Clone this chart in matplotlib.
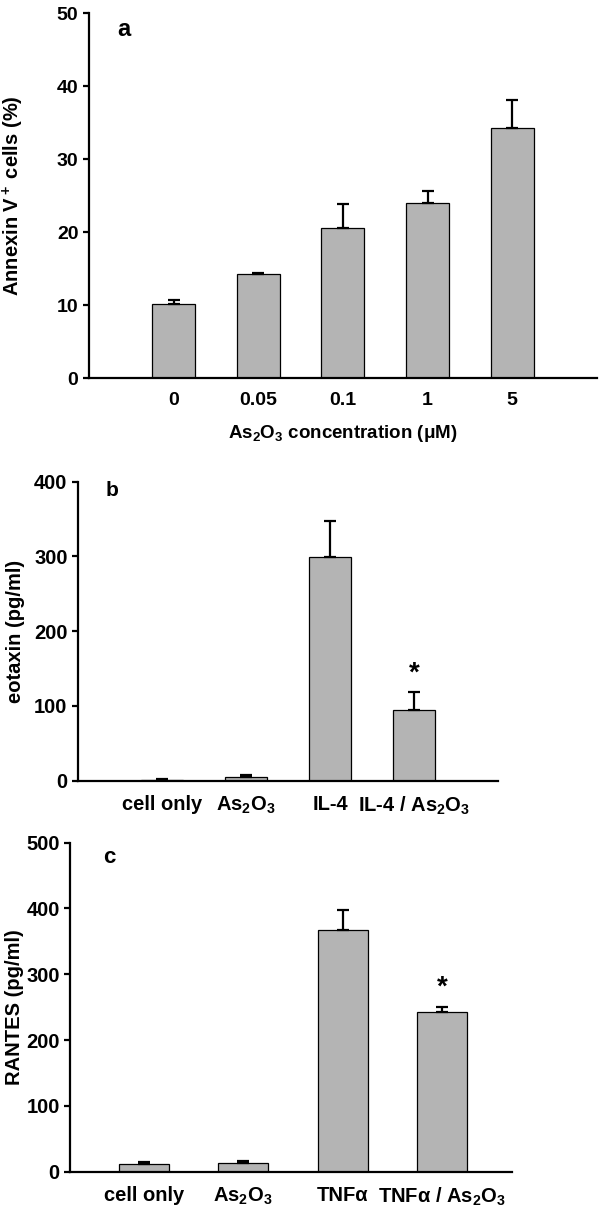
import matplotlib
matplotlib.use('Agg')
import matplotlib.pyplot as plt

plt.rcParams['font.family'] = ['Liberation Sans', 'DejaVu Sans']
plt.rcParams['font.weight'] = 'bold'
plt.rcParams['axes.labelweight'] = 'bold'
plt.rcParams['mathtext.fontset'] = 'custom'
plt.rcParams['mathtext.rm'] = 'Liberation Sans:bold'
plt.rcParams['mathtext.it'] = 'Liberation Sans:bold'
plt.rcParams['mathtext.bf'] = 'Liberation Sans:bold'
plt.rcParams['mathtext.default'] = 'rm'

# panel a: apoptosis
conc_labels = ['0', '0.05', '0.1', '1', '5']
annexin = [10.2, 14.3, 20.6, 24.0, 34.3]
annexin_err = [0.5, 0.15, 3.3, 1.6, 3.8]

# panel b: eotaxin
eotaxin_labels = ['cell only', 'As$_2$O$_3$', 'IL-4', 'IL-4 / As$_2$O$_3$']
eotaxin = [1.5, 5.0, 298.5, 94.5]
eotaxin_err = [1.0, 2.0, 49.0, 24.5]

# panel c: RANTES
rantes_labels = ['cell only', 'As$_2$O$_3$', 'TNF\u03b1', 'TNF\u03b1 / As$_2$O$_3$']
rantes = [12.5, 14.0, 368.0, 242.0]
rantes_err = [2.5, 3.0, 30.0, 8.5]

bar_color = '#b4b4b4'

fig = plt.figure(figsize=(6, 12.16), dpi=100)


def style_axis(ax, fs):
    ax.spines['top'].set_visible(False)
    ax.spines['right'].set_visible(False)
    ax.spines['left'].set_linewidth(1.6)
    ax.spines['bottom'].set_linewidth(1.6)
    ax.tick_params(axis='y', direction='out', length=4.5, width=1.6, labelsize=fs, pad=3)
    ax.tick_params(axis='x', length=0, labelsize=fs, pad=10)


def draw_bars(ax, values, errs, width):
    x = list(range(len(values)))
    ax.bar(x, values, width=width, color=bar_color, edgecolor='black', linewidth=0.9, zorder=2)
    ax.errorbar(x, values, yerr=[[0] * len(errs), errs], fmt='none', ecolor='black',
                elinewidth=1.6, capsize=4, capthick=1.6, zorder=3)
    return x


# ---- a ----
ax_a = fig.add_axes([0.148, 0.689, 0.847, 0.300])
x = draw_bars(ax_a, annexin, annexin_err, 0.51)
ax_a.set_xlim(-1, 5)
ax_a.set_ylim(0, 50)
ax_a.set_yticks([0, 10, 20, 30, 40, 50])
ax_a.set_xticks(x)
ax_a.set_xticklabels(conc_labels)
style_axis(ax_a, 14)
ax_a.set_ylabel('Annexin V$^+$ cells (%)', fontsize=14.5)
ax_a.yaxis.set_label_coords(-0.124, 0.5)
ax_a.set_xlabel('As$_2$O$_3$ concentration (\u03bcM)', fontsize=13.5)
ax_a.xaxis.set_label_coords(0.5, -0.122)
ax_a.text(0.055, 0.955, 'a', transform=ax_a.transAxes, fontsize=17, va='center')

# ---- b ----
ax_b = fig.add_axes([0.130, 0.358, 0.700, 0.246])
x = draw_bars(ax_b, eotaxin, eotaxin_err, 0.49)
ax_b.set_xlim(-1, 4)
ax_b.set_ylim(0, 400)
ax_b.set_yticks([0, 100, 200, 300, 400])
ax_b.set_xticks(x)
ax_b.set_xticklabels(eotaxin_labels)
style_axis(ax_b, 14.5)
ax_b.set_ylabel('eotaxin (pg/ml)', fontsize=14.5)
ax_b.yaxis.set_label_coords(-0.125, 0.5)
ax_b.text(0.065, 0.97, 'b', transform=ax_b.transAxes, fontsize=15, va='center')
ax_b.text(x[3], eotaxin[3] + eotaxin_err[3] + 24, '*', fontsize=20, ha='center', va='center')

# ---- c ----
ax_c = fig.add_axes([0.117, 0.0364, 0.736, 0.2706])
x = draw_bars(ax_c, rantes, rantes_err, 0.5)
ax_c.set_xlim(-0.74, 3.7)
ax_c.set_ylim(0, 500)
ax_c.set_yticks([0, 100, 200, 300, 400, 500])
ax_c.set_xticks(x)
ax_c.set_xticklabels(rantes_labels)
style_axis(ax_c, 14.5)
ax_c.set_ylabel('RANTES (pg/ml)', fontsize=14.5)
ax_c.yaxis.set_label_coords(-0.105, 0.5)
ax_c.text(0.075, 0.955, 'c', transform=ax_c.transAxes, fontsize=16, va='center')
ax_c.text(x[3], rantes[3] + rantes_err[3] + 30, '*', fontsize=20, ha='center', va='center')

fig.savefig('out.png', dpi=100)
plt.close()
